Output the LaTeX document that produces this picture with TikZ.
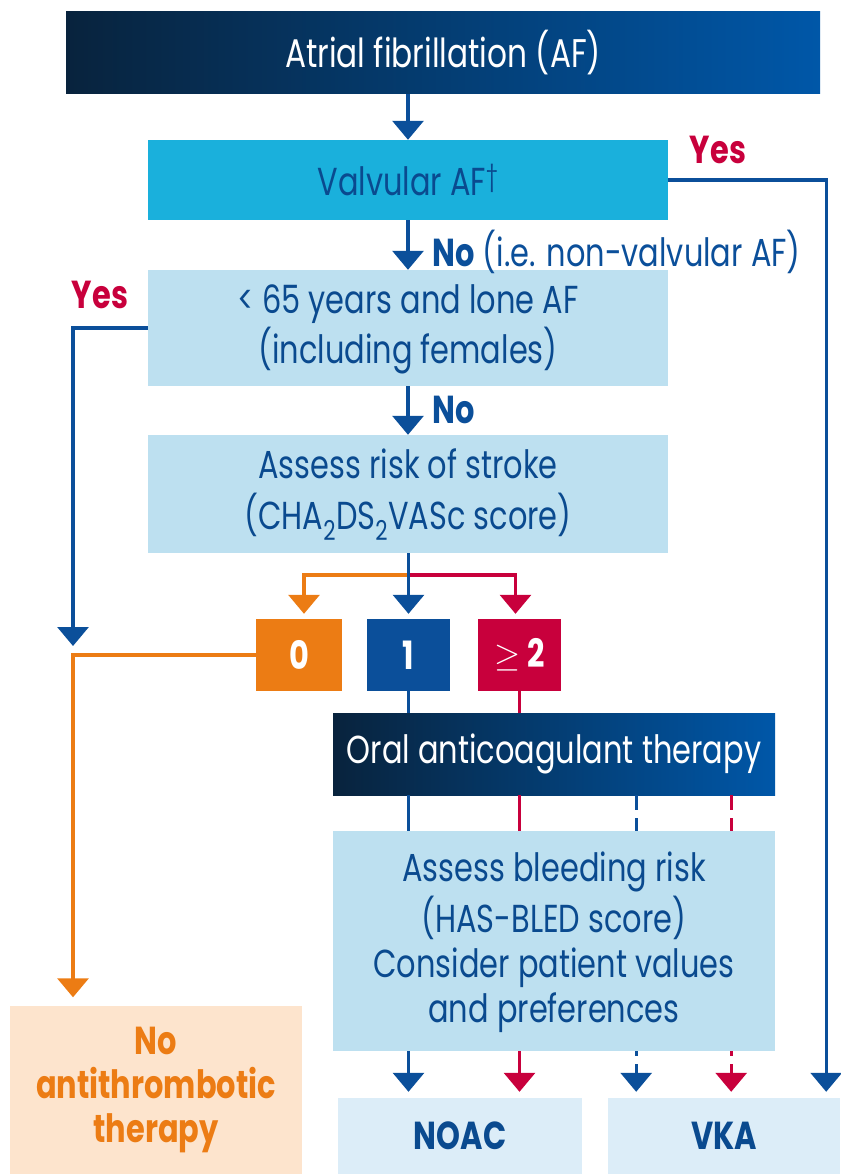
\documentclass[tikz,border=0pt]{standalone}
\usepackage{fontspec}
\setmainfont{Poppins}[FakeStretch=0.78]
\usetikzlibrary{arrows.meta,calc}
\definecolor{navy}{HTML}{08233D}
\definecolor{royal}{HTML}{0057A8}
\definecolor{lblue}{HTML}{0B4F9A}
\definecolor{txtblue}{HTML}{0A4A8F}
\definecolor{cyanbox}{HTML}{1AB0DC}
\definecolor{paleblue}{HTML}{BDE0F0}
\definecolor{paleblue2}{HTML}{DCEDF8}
\definecolor{peach}{HTML}{FDE4CD}
\definecolor{aforange}{HTML}{EC7C14}
\definecolor{afred}{HTML}{C8003C}
\tikzset{
  box/.style={rectangle, inner sep=0pt, align=center, text=txtblue, font=\fontsize{39}{45}\selectfont},
  gradbox/.style={box, left color=navy, right color=royal, text=white},
  numbox/.style={box, text=white, minimum height=72pt, font=\bfseries\fontsize{39}{44}\selectfont},
  conn/.style={line width=3.2pt},
  tip/.style={-{Triangle[width=31pt,length=19pt]}},
  dsh/.style={dash pattern=on 15pt off 8pt on 30pt off 0pt},
  dshb/.style={dash pattern=on 5pt off 8pt on 80pt off 0pt},
  ylab/.style={text=afred, font=\bfseries\fontsize{39}{44}\selectfont},
  nlab/.style={anchor=west, text=lblue, font=\fontsize{39}{44}\selectfont},
}
\begin{document}
\begin{tikzpicture}[x=1pt,y=-1pt]
\useasboundingbox (0,0) rectangle (840,1174);
% boxes
\node[gradbox, minimum width=754pt, minimum height=82pt, font=\fontsize{40}{44}\selectfont] (top) at (443,53) {Atrial fibrillation (AF)};
\node[box, fill=cyanbox, minimum width=520pt, minimum height=80pt] (valv) at (408,180) {Valvular AF\textsuperscript{†}};
\node[box, fill=paleblue, minimum width=520pt, minimum height=116pt] (lone) at (408,328) {\strut< 65 years and lone AF\\(including females)};
\node[box, fill=paleblue, minimum width=520pt, minimum height=118pt] (stroke) at (408,494) {\strut Assess risk of stroke\\(CHA\textsubscript{2}DS\textsubscript{2}VASc score)};
\node[numbox, fill=aforange, minimum width=86pt] (box0) at (299,655) {0};
\node[numbox, fill=lblue, minimum width=83pt] (box1) at (408.5,655) {1};
\node[numbox, fill=afred, minimum width=83pt] (box2) at (519.5,655) {\raisebox{1pt}{\scalebox{1.35}{$\geq$}}\,2};
\node[gradbox, minimum width=442pt, minimum height=82pt] (oral) at (554,754) {Oral anticoagulant therapy};
\node[box, fill=paleblue, minimum width=442pt, minimum height=220pt] (bleed) at (554,941) {\strut Assess bleeding risk\\(HAS-BLED score)\\Consider patient values\\and preferences};
\node[box, fill=paleblue2, minimum width=244pt, minimum height=76pt, font=\bfseries\fontsize{39}{44}\selectfont] (noac) at (460,1136) {NOAC};
\node[box, fill=paleblue2, minimum width=232pt, minimum height=76pt, font=\bfseries\fontsize{39}{44}\selectfont] (vka) at (724,1136) {VKA};
\node[box, fill=peach, minimum width=292pt, minimum height=169pt, text=aforange, font=\bfseries\fontsize{39}{44}\selectfont] (noat) at (156,1090) {No\\antithrombotic\\therapy};
% labels
\node[ylab] (yes1) at (718,150) {Yes};
\node[ylab] (yes2) at (100,295) {Yes};
\node[nlab] (no1) at (429,252) {\textbf{No} (i.e. non-valvular AF)};
\node[nlab] (no2) at (429,410) {\textbf{No}};
% coordinates
\coordinate (split) at (408.5,575);
\coordinate (join) at (73,646);
% connectors
\draw[conn, lblue, tip] (top.south -| valv.north) -- (valv.north);
\draw[conn, lblue, tip, shorten >=6pt] (valv.east) -| ([xshift=-14pt]vka.north east);
\draw[conn, lblue, tip] (valv.south) -- (lone.north);
\draw[conn, lblue, tip] (lone.west) -| (join);
\draw[conn, lblue, tip] (lone.south) -- (stroke.north);
\draw[conn, aforange, tip, shorten >=5pt] (split) -| ([xshift=5pt]box0.north);
\draw[conn, afred, tip, shorten >=5pt] (split) -| ([xshift=-4pt]box2.north);
\draw[conn, lblue, tip, shorten >=5pt] (stroke.south -| box1.north) -- (box1.north);
\draw[conn, aforange, tip, shorten >=8pt] (box0.west) -| (noat.north -| join);
\draw[conn, lblue] (box1.south) -- (oral.north -| box1.south);
\draw[conn, afred] (box2.south) -- (oral.north -| box2.south);
\draw[conn, lblue] (oral.south -| box1.south) -- (bleed.north -| box1.south);
\draw[conn, afred] (oral.south -| box2.south) -- (bleed.north -| box2.south);
\draw[conn, lblue, dsh] ([xshift=-139pt]oral.south east) -- ([xshift=-139pt]bleed.north east);
\draw[conn, afred, dsh] ([xshift=-44pt]oral.south east) -- ([xshift=-44pt]bleed.north east);
\draw[conn, lblue, tip, shorten >=6pt] (bleed.south -| box1.south) -- (noac.north -| box1.south);
\draw[conn, afred, tip, shorten >=6pt] (bleed.south -| box2.south) -- (noac.north -| box2.south);
\draw[conn, lblue, tip, shorten >=6pt, dshb] ([xshift=-139pt]bleed.south east) -- ([xshift=-139pt]bleed.south east |- vka.north);
\draw[conn, afred, tip, shorten >=6pt, dshb] ([xshift=-44pt]bleed.south east) -- ([xshift=-44pt]bleed.south east |- vka.north);
\end{tikzpicture}
\end{document}
